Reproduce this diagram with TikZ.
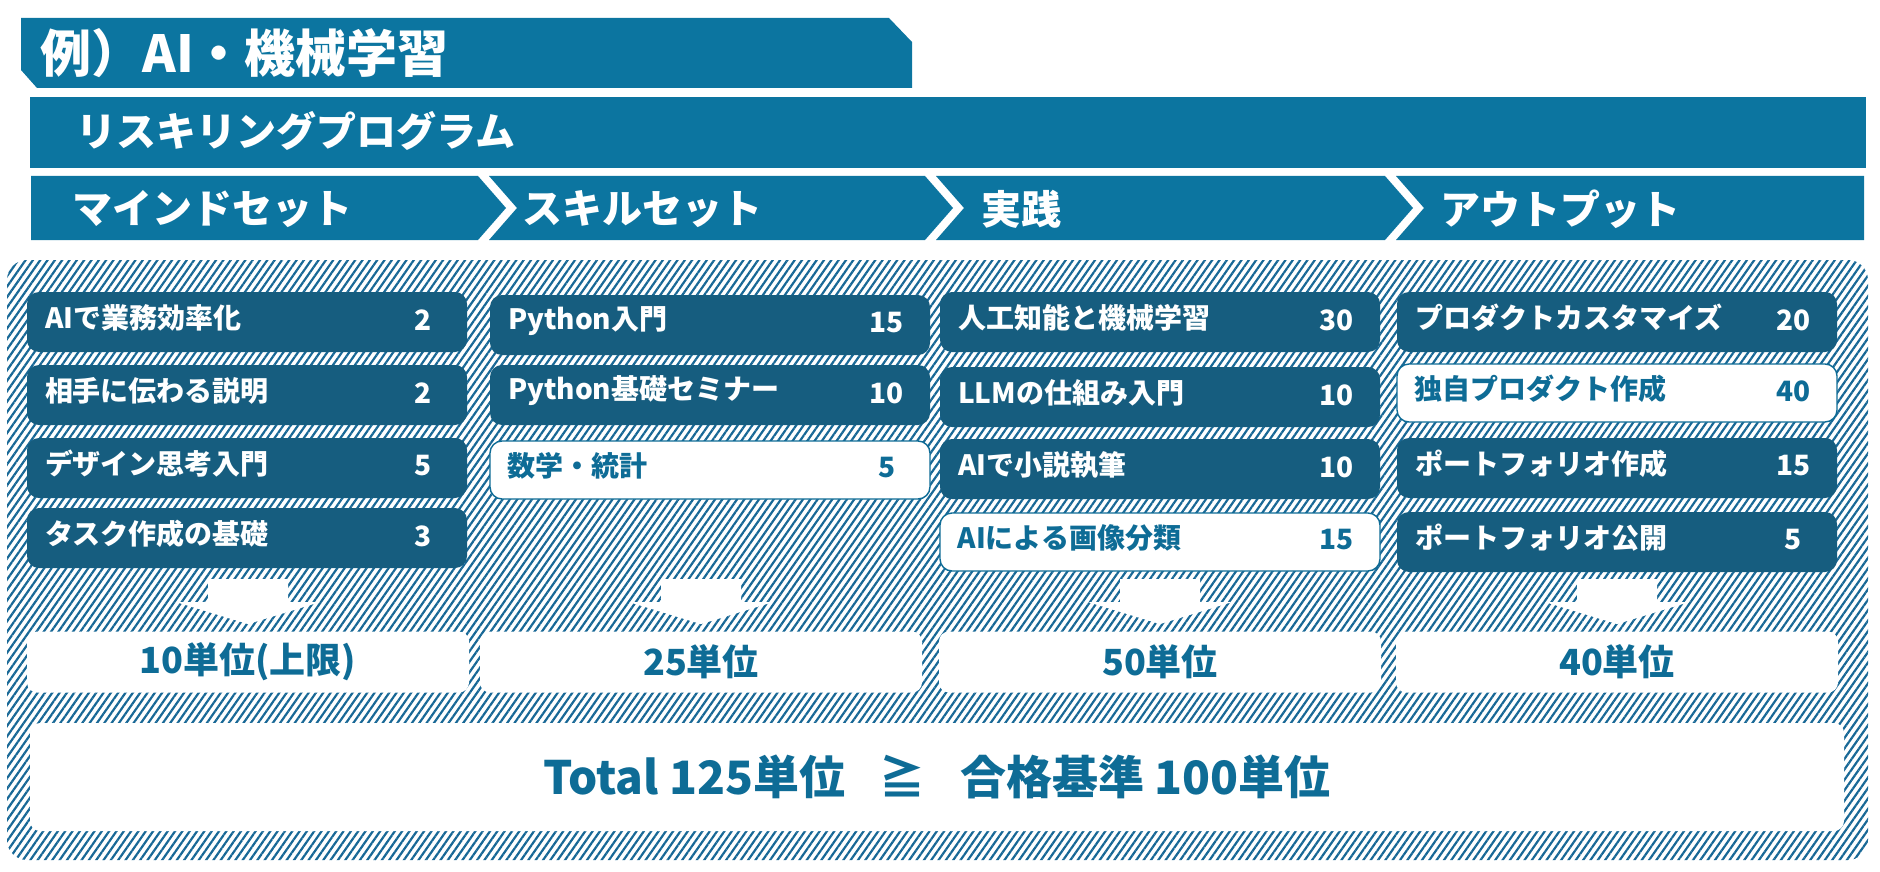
\documentclass[tikz,border=0pt]{standalone}
\usepackage{fontspec}
\setmainfont{Noto Sans CJK JP}
\usetikzlibrary{calc,patterns.meta}

\definecolor{bannerblue}{RGB}{12,117,160}
\definecolor{itemblue}{RGB}{22,93,127}
\definecolor{textblue}{RGB}{14,108,150}
\definecolor{hatchblue}{RGB}{24,104,150}

\tikzset{
  banner/.style={fill=bannerblue},
  bannertext/.style={text=white, inner sep=0pt, anchor=west,
    font=\bfseries\fontsize{20pt}{20pt}\selectfont},
  coursedark/.style={fill=itemblue, rounded corners=6pt, inner sep=0pt,
    minimum width=220pt, minimum height=30pt},
  courselight/.style={fill=white, draw=textblue, line width=0.7pt,
    rounded corners=6pt, inner sep=0pt, minimum width=220pt, minimum height=29pt},
  coursedark text/.style={text=white, inner sep=0pt,
    font=\bfseries\fontsize{14pt}{14pt}\selectfont},
  courselight text/.style={text=textblue, inner sep=0pt,
    font=\bfseries\fontsize{14pt}{14pt}\selectfont},
  unitbox/.style={fill=white, rounded corners=5pt, minimum width=221pt,
    minimum height=30.5pt, text=textblue,
    font=\bfseries\fontsize{18pt}{18pt}\selectfont},
}

% name, x, y, dark/light, title, credits
\newcommand{\coursebox}[6]{%
  \node[course#4] (#1) at (#2,#3) {};
  \node[course#4 text, anchor=west] (#1-title) at ($(#1.west)+(18,-4)$) {#5};
  \node[course#4 text] (#1-credit) at ($(#1.east)+(-44,-2)$) {#6};
}

\begin{document}
\begin{tikzpicture}[x=0.5pt,y=-0.5pt]
  \useasboundingbox (0,0) rectangle (1880,872);

  % header banners
  \fill[banner] (21,18) -- (889,18) -- (912,42) -- (912,88) -- (37,88) -- (21,70) -- cycle;
  \node[bannertext, font=\bfseries\fontsize{25.5pt}{25.5pt}\selectfont] (title) at (40,53) {例）AI・機械学習};
  \fill[banner] (30,97) rectangle (1866,168);
  \node[bannertext] (program) at (76,131) {リスキリングプログラム};

  % steps
  \fill[banner] (31,176) -- (478,176) -- (506,208) -- (478,240) -- (31,240) -- cycle;
  \fill[banner] (489,176) -- (925,176) -- (953,208) -- (925,240) -- (489,240) -- (517,208) -- cycle;
  \fill[banner] (936,176) -- (1385,176) -- (1413,208) -- (1385,240) -- (936,240) -- (964,208) -- cycle;
  \fill[banner] (1396,176) -- (1864,176) -- (1864,240) -- (1396,240) -- (1424,208) -- cycle;
  \node[bannertext] (mindset) at (72,209) {マインドセット};
  \node[bannertext] (skillset) at (522,209) {スキルセット};
  \node[bannertext] (practice) at (981,209) {実践};
  \node[bannertext] (output) at (1440,209) {アウトプット};

  % hatched panel
  \fill[pattern={Lines[angle=55,distance=3pt,line width=1.1pt]}, pattern color=hatchblue,
    rounded corners=10pt] (7,260) rectangle (1868,860);

  % courses
  \coursebox{m1}{247}{322}{dark}{AIで業務効率化}{2}
  \coursebox{m2}{247}{395}{dark}{相手に伝わる説明}{2}
  \coursebox{m3}{247}{468}{dark}{デザイン思考入門}{5}
  \coursebox{m4}{247}{538}{dark}{タスク作成の基礎}{3}
  \coursebox{s1}{710}{325}{dark}{Python入門}{15}
  \coursebox{s2}{710}{395}{dark}{Python基礎セミナー}{10}
  \coursebox{s3}{710}{470}{light}{数学・統計}{5}
  \coursebox{p1}{1160}{322}{dark}{人工知能と機械学習}{30}
  \coursebox{p2}{1160}{397}{dark}{LLMの仕組み入門}{10}
  \coursebox{p3}{1160}{469}{dark}{AIで小説執筆}{10}
  \coursebox{p4}{1160}{542}{light}{AIによる画像分類}{15}
  \coursebox{o1}{1617}{322}{dark}{プロダクトカスタマイズ}{20}
  \coursebox{o2}{1617}{393}{light}{独自プロダクト作成}{40}
  \coursebox{o3}{1617}{468}{dark}{ポートフォリオ作成}{15}
  \coursebox{o4}{1617}{542}{dark}{ポートフォリオ公開}{5}

  % credits per step
  \node[unitbox] (u1) at (248,662) {10単位(上限)};
  \node[unitbox] (u2) at (701,662) {25単位};
  \node[unitbox] (u3) at (1160,662) {50単位};
  \node[unitbox] (u4) at (1617,662) {40単位};
  \foreach \u in {u1,u2,u3,u4} {
    \fill[white] ($(\u.north)+(-40,-52)$) -- ($(\u.north)+(40,-52)$) -- ($(\u.north)+(40,-29)$)
      -- ($(\u.north)+(72,-29)$) -- ($(\u.north)+(0,-7)$) -- ($(\u.north)+(-72,-29)$)
      -- ($(\u.north)+(-40,-29)$) -- cycle;
  }

  % total
  \node[unitbox, minimum width=907pt, minimum height=54pt,
    font=\bfseries\fontsize{23pt}{23pt}\selectfont] (total) at (937,777)
    {Total 125単位\hspace{0.75em}≧\hspace{0.75em}合格基準 100単位};
\end{tikzpicture}
\end{document}
